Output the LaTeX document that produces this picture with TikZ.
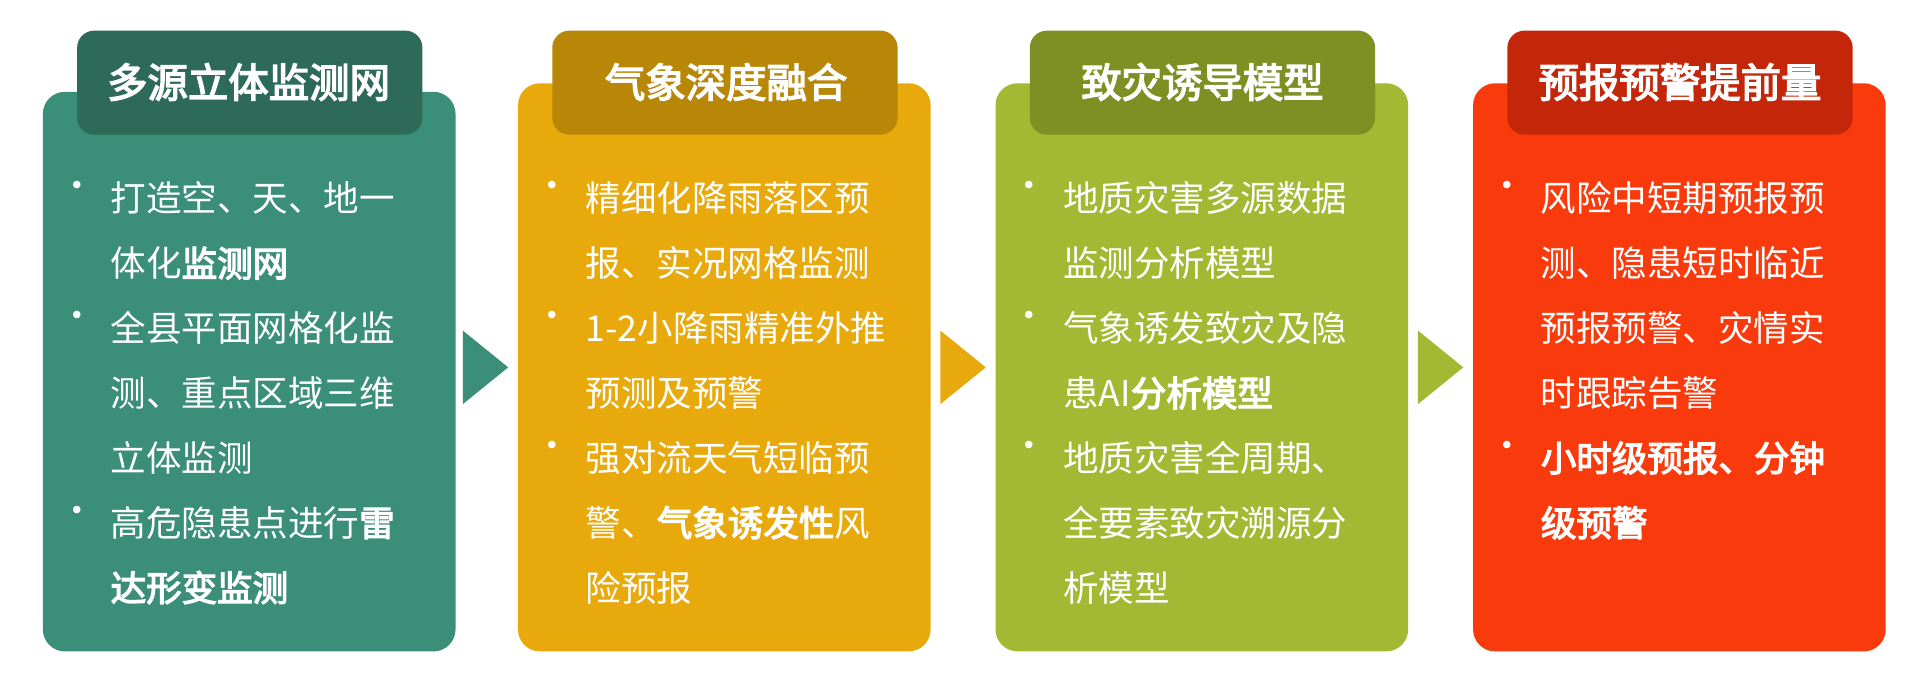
\documentclass[tikz,border=0pt]{standalone}
\usepackage{fontspec}
\setmainfont{Noto Sans CJK SC}[AutoFakeBold=2.5]
\newfontfamily\cjkb{Noto Sans CJK SC}[FakeBold=3.5]
\definecolor{cA}{HTML}{3B8F78}\definecolor{tA}{HTML}{2D6A57}
\definecolor{cB}{HTML}{E8A90C}\definecolor{tB}{HTML}{B98708}
\definecolor{cC}{HTML}{A3B934}\definecolor{tC}{HTML}{7E8F24}
\definecolor{cD}{HTML}{F83A0C}\definecolor{tD}{HTML}{C4260A}
\begin{document}
\begin{tikzpicture}[x=0.5pt,y=-0.5pt,
  panel/.style={rounded corners=9pt},
  tab/.style={rounded corners=7pt},
  ttl/.style={text=white,font=\fontsize{16.5}{18}\cjkb},
  body/.style={text=white,anchor=north west,align=left,inner sep=0pt,font=\fontsize{14.5}{26.5}\selectfont},
  bul/.style={body,font=\fontsize{14.5}{26.5}\selectfont}]
\fill[white] (0,0) rectangle (1568,557);
\useasboundingbox (0,0) rectangle (1568,557);
% panels
\foreach \x/\c/\t/\ty in {35/cA/tA/75,423/cB/tB/68,813/cC/tC/68,1203/cD/tD/68}{
  \fill[\c,panel] (\x,\ty) rectangle ++(337,532-\ty);
  \fill[\t,tab] (\x+28,25) rectangle ++(282,85);
}
\node[ttl] (t1) at (203,67) {多源立体监测网};
\node[ttl] (t2) at (593,67) {气象深度融合};
\node[ttl] (t3) at (982,67) {致灾诱导模型};
\node[ttl] (t4) at (1372,67) {预报预警提前量};
% arrows
\fill[cA] (378,270) -- (415,300) -- (378,330) -- cycle;
\fill[cB] (768,270) -- (805,300) -- (768,330) -- cycle;
\fill[cC] (1158,270) -- (1195,300) -- (1158,330) -- cycle;
% texts
\node[bul] (b1) at (48,148) {•\\ \\•\\ \\ \\•};
\node[body] (x1) at (90,148) {打造空、天、地一\\体化{\cjkb 监测网}\\全县平面网格化监\\测、重点区域三维\\立体监测\\高危隐患点进行{\cjkb 雷}\\{\cjkb 达形变监测}};
\node[bul] (b2) at (436,148) {•\\ \\•\\ \\•};
\node[body] (x2) at (478,148) {精细化降雨落区预\\报、实况网格监测\\1-2小降雨精准外推\\预测及预警\\强对流天气短临预\\警、{\cjkb 气象诱发性}风\\险预报};
\node[bul] (b3) at (826,148) {•\\ \\•\\ \\•};
\node[body] (x3) at (868,148) {地质灾害多源数据\\监测分析模型\\气象诱发致灾及隐\\患AI{\cjkb 分析模型}\\地质灾害全周期、\\全要素致灾溯源分\\析模型};
\node[bul] (b4) at (1216,148) {•\\ \\ \\ \\•};
\node[body] (x4) at (1258,148) {风险中短期预报预\\测、隐患短时临近\\预报预警、灾情实\\时跟踪告警\\{\cjkb 小时级预报、分钟}\\{\cjkb 级预警}};
\end{tikzpicture}
\end{document}
